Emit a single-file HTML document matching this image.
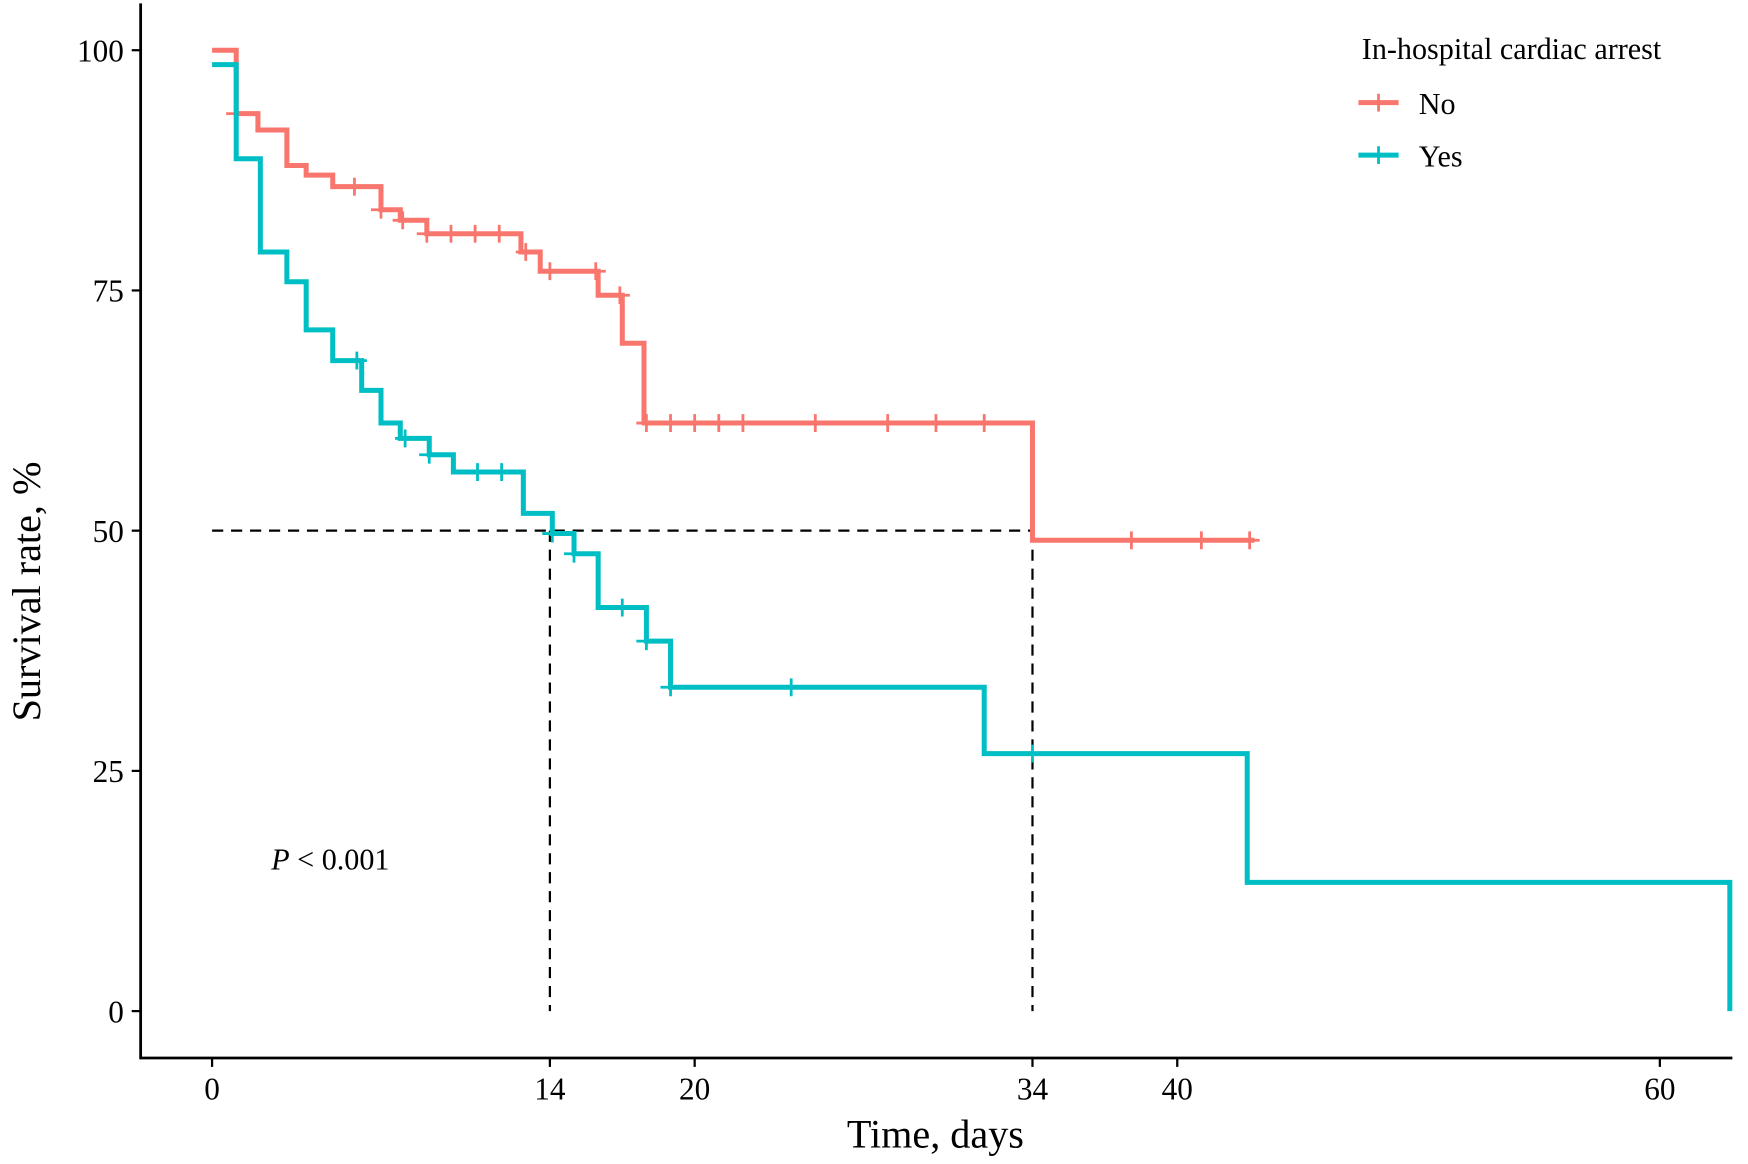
<!DOCTYPE html>
<html><head><meta charset="utf-8"><style>
html,body{margin:0;padding:0;background:#fff;}
svg{display:block;font-family:"Liberation Serif",serif;}
</style></head><body>
<svg id="chart" width="1748" height="1164" viewBox="0 0 1566 1043" preserveAspectRatio="none">
<g id="axes"></g><g id="plot"></g>
<text x="838" y="1028" font-size="36" text-anchor="middle">Time, days</text>
<text transform="translate(36,530) rotate(-90)" font-size="36" text-anchor="middle">Survival rate, %</text>
<text x="243" y="779" font-size="27"><tspan font-style="italic">P</tspan> &lt; 0.001</text>
<g>
<text x="1220" y="53" font-size="27">In-hospital cardiac arrest</text>
<g><line x1="1217" y1="92" x2="1253" y2="92" stroke="#F8766D" stroke-width="4.5"/><line x1="1235" y1="84" x2="1235" y2="100" stroke="#F8766D" stroke-width="2.5"/><text x="1271" y="102" font-size="27">No</text></g>
<g><line x1="1217" y1="139" x2="1253" y2="139" stroke="#00BFC4" stroke-width="4.5"/><line x1="1235" y1="131" x2="1235" y2="147" stroke="#00BFC4" stroke-width="2.5"/><text x="1271" y="149" font-size="27">Yes</text></g>
</g>
</svg>
<script>
const xTicks=[0,14,20,34,40,60];
const yTicks=[0,25,50,75,100];
const noTimes=[0,1.0,1.9,3.1,3.9,5.0,7.0,7.8,8.9,12.8,13.6,16.0,17.0,17.9,34.0,43.2];
const noSurv=[100,93.4,91.7,88,87,85.8,83.4,82.3,80.9,79,77,74.5,69.5,61.2,49,49];
const noCensor=[1.0,5.9,7.0,7.9,8.9,9.9,10.9,11.9,13.0,14.0,15.9,16.9,18.0,19.0,20.0,21.0,22.0,25.0,28.0,30.0,32.0,38.1,41.0,43.0];
const yesTimes=[0,1.0,2.0,3.1,3.9,5.0,6.2,7.0,7.8,9.0,10.0,12.9,14.1,15.0,16.0,18.0,19.0,32.0,42.9,62.9];
const yesSurv=[98.5,88.7,79,75.9,70.9,67.7,64.6,61.2,59.6,57.9,56.1,51.8,49.7,47.6,42,38.5,33.7,26.8,13.4,0];
const yesCensor=[6.0,8.0,9.0,11.0,12.0,14.1,15.0,17.0,18.0,19.0,24.0,34.0];
const medians=[14,34];

const NS='http://www.w3.org/2000/svg';
const X=t=>190+t*21.617, Y=s=>906-s*8.61;
function mk(tag,attrs,parent){const e=document.createElementNS(NS,tag);for(const k in attrs)e.setAttribute(k,attrs[k]);parent.appendChild(e);return e;}
const axes=document.getElementById('axes'), plot=document.getElementById('plot');
const ya=mk('line',{x1:126,y1:3,x2:126,y2:949,stroke:'#000','stroke-width':2.5},axes);


const xa=mk('line',{x1:125,y1:948,x2:1552,y2:948,stroke:'#000','stroke-width':2.5},axes);


xTicks.forEach(t=>{
  mk('line',{x1:X(t),y1:948,x2:X(t),y2:956,stroke:'#000','stroke-width':2},axes);
  const tx=mk('text',{x:X(t),y:985,'font-size':28,'text-anchor':'middle'},axes);
  tx.textContent=t;
  
  
});
yTicks.forEach(s=>{
  mk('line',{x1:118,y1:Y(s),x2:126,y2:Y(s),stroke:'#000','stroke-width':2},axes);
  const tx=mk('text',{x:111,y:Y(s)+10,'font-size':28,'text-anchor':'end'},axes);
  tx.textContent=s;
  
  
});
const hl=mk('line',{x1:X(0),y1:Y(50),x2:X(medians[1]),y2:Y(50),stroke:'#000','stroke-width':2,'stroke-dasharray':'10,7'},plot);


medians.forEach(m=>{
  const v=mk('line',{x1:X(m),y1:Y(50),x2:X(m),y2:Y(0),stroke:'#000','stroke-width':2,'stroke-dasharray':'10,7'},plot);
  
  
});
function stepVal(times,surv,t){let v=surv[0];for(let i=0;i<times.length;i++){if(times[i]<=t)v=surv[i];}return v;}
function curve(times,surv,censor,color,name){
  let d='M'+X(times[0])+','+Y(surv[0]);
  for(let i=1;i<times.length;i++){d+=' H'+X(times[i])+' V'+Y(surv[i]);}
  const p=mk('path',{d:d,fill:'none',stroke:color,'stroke-width':4.5},plot);
  
  
  censor.forEach(c=>{
    const s=stepVal(times,surv,c);
    const m=mk('path',{d:'M'+(X(c)-9)+','+Y(s)+' H'+(X(c)+9)+' M'+X(c)+','+(Y(s)-8)+' V'+(Y(s)+8),stroke:color,'stroke-width':2.5},plot);
    
    
  });
}
curve(noTimes,noSurv,noCensor,'#F8766D','no');
curve(yesTimes,yesSurv,yesCensor,'#00BFC4','yes');
</script>
</body></html>
